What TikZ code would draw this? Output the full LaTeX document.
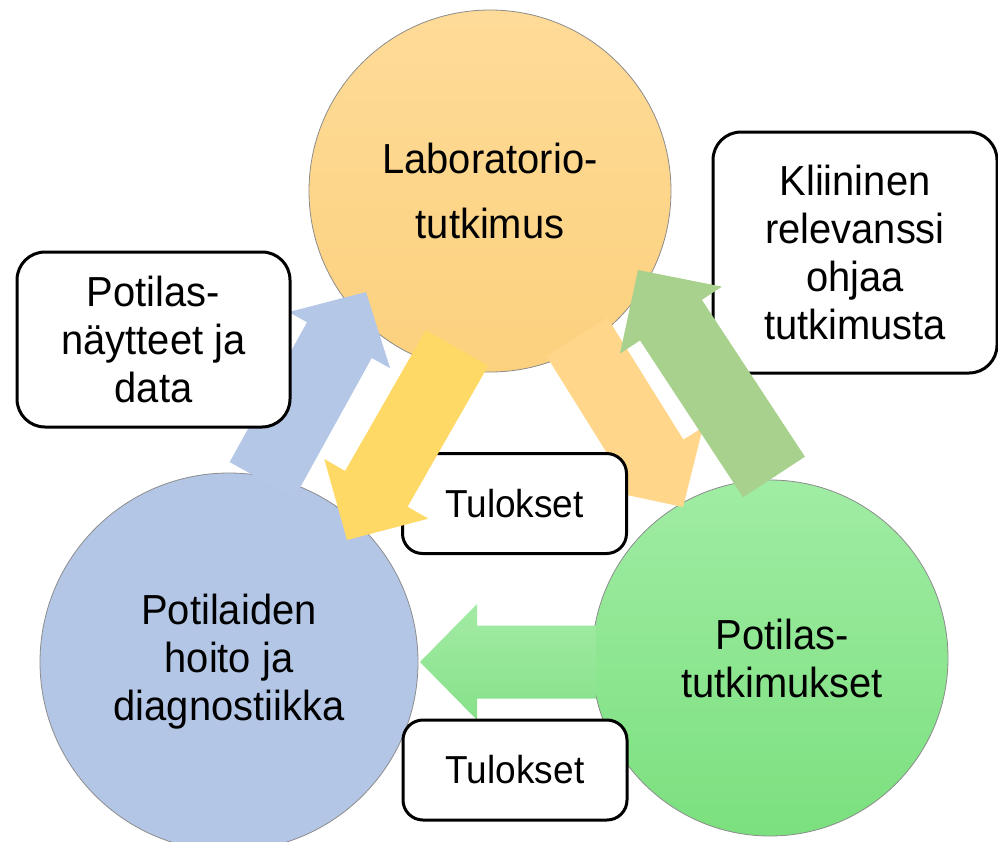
\documentclass[tikz,border=0pt]{standalone}
\usepackage{fontspec}
\setmainfont{Liberation Sans}[FakeStretch=0.95]
\usetikzlibrary{calc}
\definecolor{orTop}{HTML}{FEDB98}
\definecolor{orBot}{HTML}{FCD17E}
\definecolor{blC}{HTML}{B4C6E6}
\definecolor{grTop}{HTML}{A0ECA4}
\definecolor{grBot}{HTML}{7BE07E}
\definecolor{arBlue}{HTML}{B4C7E7}
\definecolor{arYellow}{HTML}{FFD966}
\definecolor{arOrange}{HTML}{FFD68A}
\definecolor{arGreen}{HTML}{A9D18E}
\definecolor{arHTop}{HTML}{A3EBA5}
\definecolor{arHBot}{HTML}{86E189}
\newcommand{\blockarrow}[6]{%
  \coordinate (#1hb) at ($(#2)!#5!(#1)$);
  \path[#6] ($(#1)!#3!90:(#2)$) -- ($(#1hb)!#3!90:(#2)$) -- ($(#1hb)!#4!90:(#2)$)
    -- (#2) -- ($(#1hb)!#4!-90:(#2)$) -- ($(#1hb)!#3!-90:(#2)$) -- ($(#1)!#3!-90:(#2)$) -- cycle;
}
\tikzset{
  circ/.style={circle, draw=black!45, line width=0.8pt, inner sep=0pt, align=center,
    font=\fontsize{42pt}{48pt}\selectfont},
  txt/.style={inner sep=0pt, align=center, font=\fontsize{42pt}{48pt}\selectfont},
  bigbox/.style={draw=black, fill=white, line width=3pt, rounded corners=28pt, inner sep=0pt,
    align=center, font=\fontsize{42pt}{48pt}\selectfont},
  smallbox/.style={draw=black, fill=white, line width=3pt, rounded corners=20pt, inner sep=0pt,
    align=center, font=\fontsize{39pt}{46pt}\selectfont, minimum width=224pt, minimum height=100pt}
}
\begin{document}
\begin{tikzpicture}[x=1pt,y=-1pt]
\useasboundingbox (0,0) rectangle (998,841);
% circles
\node[circ, minimum size=362pt, top color=orTop, bottom color=orBot] (lab) at (490,191) {Laboratorio-\\[17pt]tutkimus};
\node[circ, minimum size=378pt, fill=blC] (hoito) at (229,662) {Potilaiden\\hoito ja\\diagnostiikka};
\node[circ, minimum size=356pt, top color=grTop, bottom color=grBot] (pt) at (770,658) {};
\node[txt] (pttext) at (782,658) {Potilas-\\tutkimukset};
% right box
\node[bigbox, minimum width=284pt, minimum height=241pt] (klin) at (855,252.5) {Kliininen\\relevanssi\\ohjaa\\tutkimusta};
% light orange arrow
\coordinate (ao-tail) at (577,337);
\coordinate (ao-tip) at (683,507);
\blockarrow{ao-tail}{ao-tip}{36pt}{59pt}{57pt}{fill=arOrange}
% upper results box
\node[smallbox] (tul1) at (514.5,503.5) {Tulokset};
% yellow arrow
\coordinate (ay-tail) at (457,348);
\coordinate (ay-tip) at (347,540);
\blockarrow{ay-tail}{ay-tip}{36pt}{60pt}{59pt}{fill=arYellow}
% green arrow
\coordinate (ag-tail) at (774,477);
\coordinate (ag-tip) at (638,270);
\blockarrow{ag-tail}{ag-tip}{37pt}{61pt}{60pt}{fill=arGreen}
% blue arrow
\coordinate (ab-tail) at (262,480);
\coordinate (ab-tip) at (366,292);
\blockarrow{ab-tail}{ab-tip}{37pt}{58pt}{55pt}{fill=arBlue}
% left box
\node[bigbox, minimum width=273pt, minimum height=175pt] (nayt) at (153.5,339.5) {Potilas-\\näytteet ja\\data};
% horizontal green arrow
\coordinate (ah-tail) at (596,662);
\coordinate (ah-tip) at (420,662);
\blockarrow{ah-tail}{ah-tip}{36.5pt}{58pt}{57pt}{top color=arHTop, bottom color=arHBot}
% lower results box
\node[smallbox] (tul2) at (515,770) {Tulokset};
\end{tikzpicture}
\end{document}
